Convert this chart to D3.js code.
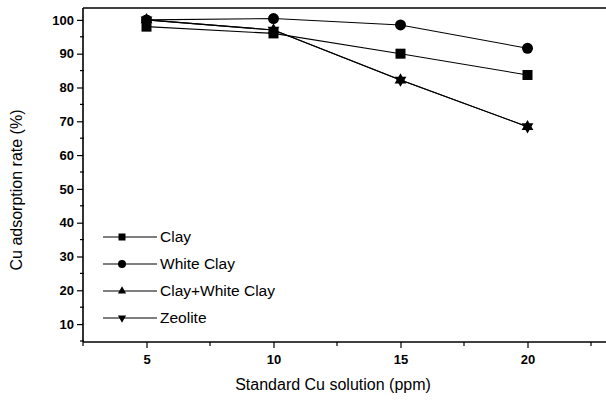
<!DOCTYPE html>
<html>
<head>
<meta charset="utf-8">
<script src="https://cdn.jsdelivr.net/npm/d3@7/dist/d3.min.js"></script>
<style>
  html, body { margin: 0; padding: 0; background: #fff; }
  svg { display: block; font-family: Arial, "Liberation Sans", sans-serif; }
</style>
</head>
<body>
<svg id="chart" width="606" height="401"></svg>
<script>
// Standard Cu concentration (ppm)
const concentrations = [5, 10, 15, 20];
// Cu adsorption rate (%) for each adsorbent
const clay = [98, 96, 90, 83.7];
const whiteClay = [100, 100.4, 98.5, 91.6];
const clayWhiteClay = [100, 97, 82.2, 68.4];
const zeolite = [100, 97, 82.2, 68.4];
const seriesNames = ["Clay", "White Clay", "Clay+White Clay", "Zeolite"];
const xTickValues = [5, 10, 15, 20];
const yTickValues = [10, 20, 30, 40, 50, 60, 70, 80, 90, 100];

const series = [
  { name: seriesNames[0], values: clay, shape: "square" },
  { name: seriesNames[1], values: whiteClay, shape: "circle" },
  { name: seriesNames[2], values: clayWhiteClay, shape: "up" },
  { name: seriesNames[3], values: zeolite, shape: "down" }
];

const svg = d3.select("#chart");
const plotLeft = 83, plotRight = 606, plotTop = 8, plotBottom = 342;

const x = d3.scaleLinear().domain([2.5, 2.5 + (plotRight - plotLeft) / 25.4]).range([plotLeft, plotRight]);
const y = d3.scaleLinear().domain([4.7, 4.7 + (plotBottom - plotTop) / 3.38]).range([plotBottom, plotTop]);

// frame: top edge
svg.append("line").attr("x1", plotLeft).attr("x2", plotRight).attr("y1", plotTop).attr("y2", plotTop)
  .attr("stroke", "#000").attr("stroke-width", 1.6);

// x axis
const xAxis = svg.append("g").attr("transform", `translate(0,${plotBottom})`);
xAxis.append("line").attr("x1", plotLeft).attr("x2", plotRight).attr("stroke", "#000").attr("stroke-width", 1.6);
xAxis.call(d3.axisBottom(x).tickValues(xTickValues).tickSize(6).tickSizeOuter(0).tickFormat(d3.format("d")))
  .call(g => g.select(".domain").remove())
  .call(g => g.selectAll(".tick line").attr("stroke-width", 1.2))
  .call(g => g.selectAll("text").attr("font-size", 13).attr("font-weight", "bold").attr("dy", "1.0em").attr("fill", "#000"));
xAxis.selectAll(".minor").data([2.5, 7.5, 12.5, 17.5, 22.5]).enter().append("line")
  .attr("class", "minor").attr("x1", d => x(d)).attr("x2", d => x(d)).attr("y1", 0).attr("y2", 4)
  .attr("stroke", "#000").attr("stroke-width", 1.2);

// y axis
const yAxis = svg.append("g").attr("transform", `translate(${plotLeft},0)`);
yAxis.append("line").attr("y1", plotTop).attr("y2", plotBottom).attr("stroke", "#000").attr("stroke-width", 1.6);
yAxis.call(d3.axisLeft(y).tickValues(yTickValues).tickSize(6).tickSizeOuter(0).tickFormat(d3.format("d")))
  .call(g => g.select(".domain").remove())
  .call(g => g.selectAll(".tick line").attr("stroke-width", 1.2))
  .call(g => g.selectAll("text").attr("font-size", 13).attr("font-weight", "bold").attr("fill", "#000"));
yAxis.selectAll(".minor").data(d3.range(5, 105, 10)).enter().append("line")
  .attr("class", "minor").attr("x1", -3).attr("x2", 1).attr("y1", d => y(d)).attr("y2", d => y(d))
  .attr("stroke", "#000").attr("stroke-width", 1.2);

// axis titles
svg.append("text").attr("x", 333).attr("y", 390).attr("text-anchor", "middle")
  .attr("font-size", 16).text("Standard Cu solution (ppm)");
svg.append("text").attr("transform", "translate(22,190) rotate(-90)").attr("text-anchor", "middle")
  .attr("font-size", 16).text("Cu adsorption rate (%)");

// marker drawing
function marker(g, shape, cx, cy, s) {
  if (shape === "square") {
    g.append("rect").attr("x", cx - s / 2).attr("y", cy - s / 2).attr("width", s).attr("height", s).attr("fill", "#000");
  } else if (shape === "circle") {
    g.append("circle").attr("cx", cx).attr("cy", cy).attr("r", s / 2 + 0.5).attr("fill", "#000");
  } else {
    const sym = d3.symbol().type(d3.symbolTriangle).size(s * s * 0.6);
    g.append("path").attr("d", sym()).attr("fill", "#000")
      .attr("transform", `translate(${cx},${cy})` + (shape === "down" ? " rotate(180)" : ""));
  }
}

const line = d3.line().x((d, i) => x(concentrations[i])).y(d => y(d));
const plot = svg.append("g");
series.forEach(s => {
  plot.append("path").attr("d", line(s.values)).attr("fill", "none").attr("stroke", "#000").attr("stroke-width", 1.1);
});
series.forEach(s => {
  s.values.forEach((v, i) => marker(plot, s.shape, x(concentrations[i]), y(v), 10));
});

// legend
const legend = svg.append("g");
series.forEach((s, i) => {
  const ly = 237 + i * 27;
  legend.append("line").attr("x1", 103).attr("x2", 157).attr("y1", ly).attr("y2", ly)
    .attr("stroke", "#000").attr("stroke-width", 1.1);
  marker(legend, s.shape, 122, ly, 7);
  legend.append("text").attr("x", 160).attr("y", ly + 5).attr("font-size", 15.5).text(s.name);
});
</script>
</body>
</html>
